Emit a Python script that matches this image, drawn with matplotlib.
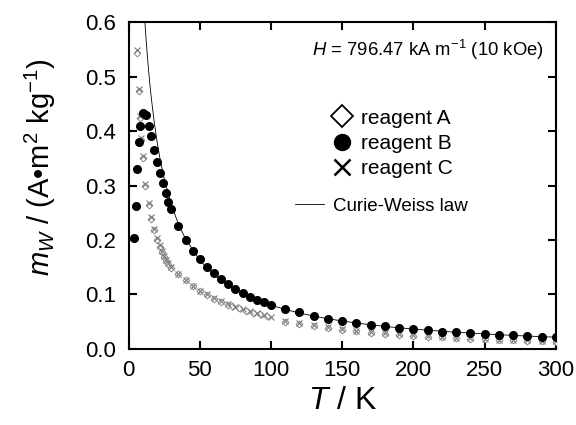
import matplotlib
matplotlib.use("Agg")
import matplotlib.pyplot as plt
from matplotlib.lines import Line2D

plt.rcParams['font.family'] = ['Liberation Sans', 'DejaVu Sans']
plt.rcParams['mathtext.fontset'] = 'custom'
plt.rcParams['mathtext.rm'] = 'Liberation Sans'
plt.rcParams['mathtext.it'] = 'Liberation Sans:italic'

# reagent B (filled circles)
t_b = [4, 5, 6, 7, 8, 10, 12, 14, 16, 18, 20, 22, 24, 26, 28, 30,
       35, 40, 45, 50, 55, 60, 65, 70, 75, 80, 85, 90, 95, 100,
       110, 120, 130, 140, 150, 160, 170, 180, 190, 200,
       210, 220, 230, 240, 250, 260, 270, 280, 290, 300]
m_b = [0.203, 0.262, 0.330, 0.379, 0.410, 0.434, 0.429, 0.410, 0.390, 0.366,
       0.344, 0.3235, 0.304, 0.287, 0.270, 0.256,
       0.226, 0.200, 0.180, 0.165, 0.151, 0.140, 0.128, 0.119, 0.1095, 0.102,
       0.0954, 0.090, 0.0857, 0.0807,
       0.0735, 0.0673, 0.0605, 0.0556, 0.052, 0.0477, 0.0446, 0.0416, 0.039, 0.0367,
       0.0343, 0.0318, 0.0306, 0.0288, 0.0275, 0.0262, 0.0251, 0.0233, 0.0226, 0.0215]

# reagent C (crosses)
t_c = [6, 7, 8, 9, 10, 11.7, 14, 16, 18, 20, 21.8, 23.5, 25, 26.5, 28, 29.6,
       35, 40, 45, 50, 55, 60, 65, 70, 75, 80, 85, 90, 95, 100,
       110, 120, 130, 140, 150, 160, 170, 180, 190, 200,
       210, 220, 230, 240, 250, 260, 270, 280, 290, 300]
m_c = [0.548, 0.478, 0.428, 0.387, 0.354, 0.303, 0.268, 0.242, 0.221, 0.203,
       0.191, 0.180, 0.171, 0.164, 0.157, 0.151,
       0.138, 0.127, 0.116, 0.107, 0.100, 0.093, 0.088, 0.082, 0.0776, 0.0734,
       0.0697, 0.0655, 0.0624, 0.058,
       0.051, 0.0475, 0.0435, 0.040, 0.037, 0.0335, 0.031, 0.0285, 0.027, 0.0255,
       0.0235, 0.0222, 0.0205, 0.0198, 0.0186, 0.0172, 0.0166, 0.0155, 0.0152, 0.0142]

# reagent A (open diamonds)
t_a = [6, 7, 8, 9, 10, 11.7, 14, 16, 18, 20, 21.8, 23.5, 25, 26.5, 28, 29.6,
       35, 40, 45, 50, 55, 60, 65, 70, 72.5, 77.5, 82.5, 87.5, 92.5, 97.5,
       110, 120, 130, 140, 150, 160, 170, 180, 190, 200,
       210, 220, 230, 240, 250, 260, 270, 280, 290, 300]
m_a = [0.544, 0.474, 0.424, 0.383, 0.350, 0.300, 0.265, 0.239, 0.218, 0.200,
       0.188, 0.178, 0.169, 0.162, 0.155, 0.149,
       0.137, 0.126, 0.115, 0.106, 0.099, 0.092, 0.087, 0.081, 0.079, 0.0745,
       0.0705, 0.0668, 0.0632, 0.0598,
       0.0495, 0.046, 0.042, 0.0385, 0.0355, 0.032, 0.0297, 0.0272, 0.0257, 0.0242,
       0.0222, 0.021, 0.0193, 0.0186, 0.0174, 0.0161, 0.0155, 0.0143, 0.0142, 0.0132]

# Curie-Weiss law line
t_cw = [11, 11.5, 12, 13, 14, 15, 16, 18, 20, 22, 25, 30, 35, 40, 50, 60, 70,
        80, 90, 100, 120, 140, 160, 180, 200, 225, 250, 275, 300]
m_cw = [0.618, 0.597, 0.578, 0.543, 0.512, 0.484, 0.459, 0.416, 0.380, 0.350,
        0.312, 0.2645, 0.229, 0.202, 0.1627, 0.1358, 0.1162, 0.1012, 0.0895,
        0.080, 0.0657, 0.0553, 0.0475, 0.0413, 0.0364, 0.0315, 0.0275, 0.0242, 0.0215]

fig = plt.figure(figsize=(5.76, 4.25), dpi=100)
ax = fig.add_axes([0.2233, 0.179, 0.7416, 0.769])

gray = '#808080'
ax.plot(t_cw, m_cw, '-', color='black', lw=0.6, zorder=2)
ax.plot(t_a, m_a, 'D', ls='none', mfc='white', mec=gray, ms=3.5, mew=0.65, zorder=3)
ax.plot(t_c, m_c, 'x', ls='none', color=gray, ms=4.3, mew=0.85, zorder=3)
ax.plot(t_b, m_b, 'o', ls='none', color='black', ms=5.5, zorder=4)

ax.set_xlim(0, 300)
ax.set_ylim(0, 0.6)
ax.set_xticks([0, 50, 100, 150, 200, 250, 300])
ax.set_yticks([0.0, 0.1, 0.2, 0.3, 0.4, 0.5, 0.6])
ax.set_yticklabels(['0.0', '0.1', '0.2', '0.3', '0.4', '0.5', '0.6'])
ax.tick_params(direction='in', length=6, width=1.5, labelsize=16,
               top=True, right=True)
ax.tick_params(axis='y', pad=9)
ax.tick_params(axis='x', pad=8)
for s in ax.spines.values():
    s.set_linewidth(1.5)

ax.set_xlabel(r'$\mathit{T}$ / K', fontsize=23)
ax.xaxis.set_label_coords(0.5, -0.112)
ax.set_ylabel(r'$\mathit{m}_{\mathit{W}}$ / (A•m$^{2}$ kg$^{-1}$)', fontsize=21)
ax.yaxis.set_label_coords(-0.165, 0.555)

ax.text(0.429, 0.914, r'$\mathit{H}$ = 796.47 kA m$^{-1}$ (10 kOe)',
        transform=ax.transAxes, fontsize=13.3, va='center', ha='left')

h1 = [Line2D([], [], marker='D', ls='none', mfc='white', mec='black', ms=11, mew=1.3),
      Line2D([], [], marker='o', ls='none', color='black', ms=11.5),
      Line2D([], [], marker='x', ls='none', color='black', ms=11, mew=1.8)]
leg1 = ax.legend(h1, ['reagent A', 'reagent B', 'reagent C'], loc='upper left',
                 bbox_to_anchor=(0.477, 0.735), frameon=False, fontsize=15,
                 handlelength=0.9, handletextpad=0.45, labelspacing=0.3,
                 borderpad=0, borderaxespad=0)
ax.add_artist(leg1)
h2 = [Line2D([], [], color='black', lw=0.6)]
ax.legend(h2, ['Curie-Weiss law'], loc='center left', bbox_to_anchor=(0.3895, 0.437),
          frameon=False, fontsize=13.5, handlelength=1.55, handletextpad=0.45,
          borderpad=0, borderaxespad=0)

plt.savefig('out.png', dpi=100)
